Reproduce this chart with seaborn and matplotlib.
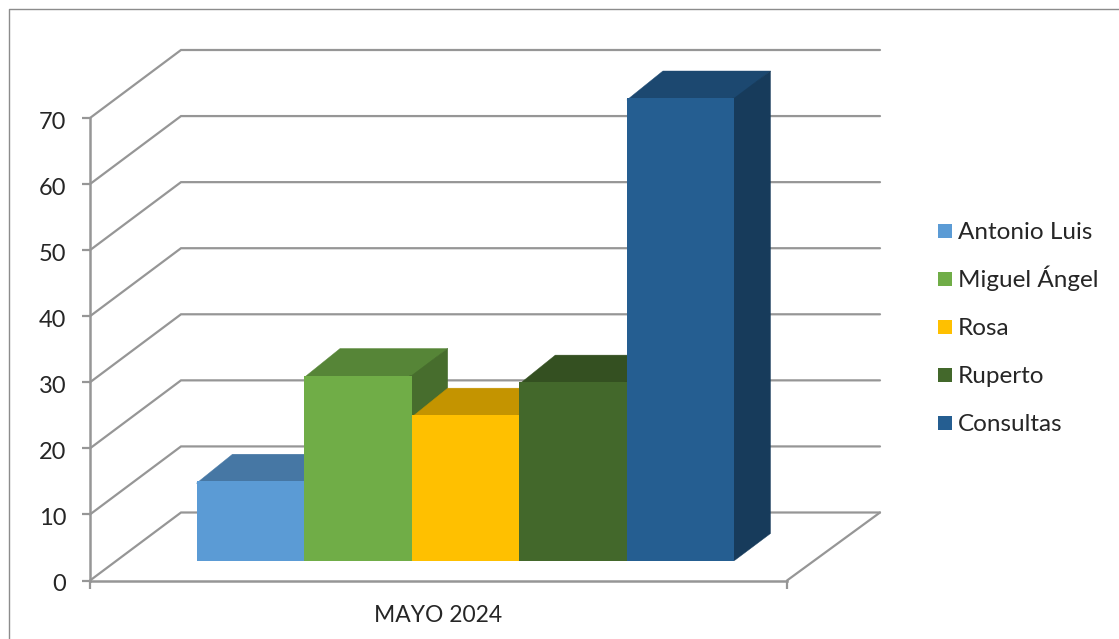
import matplotlib
matplotlib.use("Agg")
import matplotlib.pyplot as plt
import pandas as pd
import seaborn as sns
from matplotlib.legend_handler import HandlerPatch
from matplotlib.lines import Line2D
from matplotlib.patches import Polygon, Rectangle
from matplotlib.transforms import ScaledTranslation

personas = ["Antonio Luis", "Miguel Ángel", "Rosa", "Ruperto", "Consultas"]
valores = [12, 28, 22, 27, 70]
colores = ["#5B9BD5", "#70AD47", "#FFC000", "#43682B", "#255E91"]
mes = "MAYO 2024"
y_ticks = [0, 10, 20, 30, 40, 50, 60, 70]

W, H = 1119, 639
GRIS = "#969696"
TEXTO = "#262626"


def oscurecer(color, f):
    return tuple(c * f for c in matplotlib.colors.to_rgb(color))


def cuadrado(legend, orig_handle, xdescent, ydescent, width, height, fontsize):
    # small square centred in a tall legend row, so all rows get the same pitch
    return Rectangle((-xdescent, -ydescent + (height - width) / 2), width, width)


sns.set_theme(style="white")
plt.rcParams["font.family"] = ["Lato", "DejaVu Sans"]

df = pd.DataFrame({"mes": [mes] * len(personas), "persona": personas, "valor": valores})

fig = plt.figure(figsize=(W / 100, H / 100), dpi=100)
# front plane of the fake 3d box, in pixels of the reference
ax = fig.add_axes([90 / W, 1 - 580.5 / H, 697 / W, 462.5 / H])
ax.patch.set_alpha(0)

sns.barplot(data=df, x="mes", y="valor", hue="persona", palette=colores, hue_order=personas,
            width=538 / 697, gap=0, saturation=1, linewidth=0, ax=ax)
ax.set_xlim(-0.5, 0.5)
ax.set_ylim(0, 70)

# depth of the box and of the bars, in data units
px_x = 1 / 697
px_y = 70 / 462.5
fondo_x, fondo_y = 91 * px_x, 68 * px_y
fin_x = 0.5 + 93 * px_x
prof_x, prof_y = 36 * px_x, 27 * px_y
mover_x, mover_y = 27 * px_x, 20 * px_y

# back wall lines
for v in y_ticks:
    ax.plot([-0.5, -0.5 + fondo_x, fin_x], [v, v + fondo_y, v + fondo_y],
            color=GRIS, lw=1.6, clip_on=False, zorder=1, solid_joinstyle="miter")
ax.plot([0.5, fin_x], [0, fondo_y], color=GRIS, lw=1.6, clip_on=False, zorder=1)

# bars go left to right so each one covers the side of the previous
for i, cont in enumerate(ax.containers):
    z = 3 + i
    color = colores[i]
    for p in cont:
        p.set_x(p.get_x() + mover_x)
        p.set_y(mover_y)
        p.set_zorder(z + 0.5)
        p.set_clip_on(False)
        x0, x1 = p.get_x(), p.get_x() + p.get_width()
        techo = p.get_y() + p.get_height()
        c_techo = oscurecer(color, 0.77)
        c_lado = oscurecer(color, 0.63)
        # both faces run a little under the front one to avoid a light seam
        ax.add_patch(Polygon([(x0, techo - 2 * px_y), (x1, techo - 2 * px_y), (x1 + prof_x, techo + prof_y), (x0 + prof_x, techo + prof_y)],
                             closed=True, fc=c_techo, ec=c_techo, lw=0.3, zorder=z, clip_on=False))
        ax.add_patch(Polygon([(x1 - 2 * px_x, mover_y), (x1 - 2 * px_x, techo), (x1, techo), (x1 + prof_x, techo + prof_y),
                              (x1 + prof_x, mover_y + prof_y), (x1, mover_y)],
                             closed=True, fc=c_lado, ec=c_lado, lw=0.3, zorder=z, clip_on=False))

ax.set_xlabel("")
ax.set_ylabel("")
ax.set_yticks(y_ticks)
ax.set_xticks([-0.5, 0.5], labels=["", ""])
ax.set_xticks([0], labels=[mes], minor=True)
ax.tick_params(axis="y", which="major", length=6, width=1.6, color=GRIS, labelsize=17, labelcolor=TEXTO, pad=11, left=True)
ax.tick_params(axis="x", which="major", length=6, width=1.6, color=GRIS, bottom=True)
ax.tick_params(axis="x", which="minor", length=0, labelsize=16.5, labelcolor=TEXTO, pad=18)

# Lato digits sit a little high next to the ticks
bajar = ScaledTranslation(0, -1.5 / 72, fig.dpi_scale_trans)
for t in ax.get_yticklabels():
    t.set_transform(t.get_transform() + bajar)

sns.despine(ax=ax)
for s in ["left", "bottom"]:
    ax.spines[s].set_color(GRIS)
    ax.spines[s].set_linewidth(1.8)
    ax.spines[s].set_zorder(2)

handles, labels = ax.get_legend_handles_labels()
fs = 17.5
fig.legend(handles, labels, loc="center left", bbox_to_anchor=(938 / W, 1 - 327 / H),
           frameon=False, fontsize=fs, labelcolor=TEXTO, borderpad=0, borderaxespad=0,
           handlelength=10 / fs, handleheight=1.5, handletextpad=0.25, labelspacing=0.755,
           handler_map={h: HandlerPatch(patch_func=cuadrado) for h in handles})
if ax.get_legend():
    ax.get_legend().remove()

# outer frame, only top and left show in the crop
fig.add_artist(Line2D([8.5 / W, 8.5 / W, 1], [0, 1 - 8.5 / H, 1 - 8.5 / H], color="#8C8C8C", lw=1))

fig.savefig("out.png", dpi=100, facecolor="white")
